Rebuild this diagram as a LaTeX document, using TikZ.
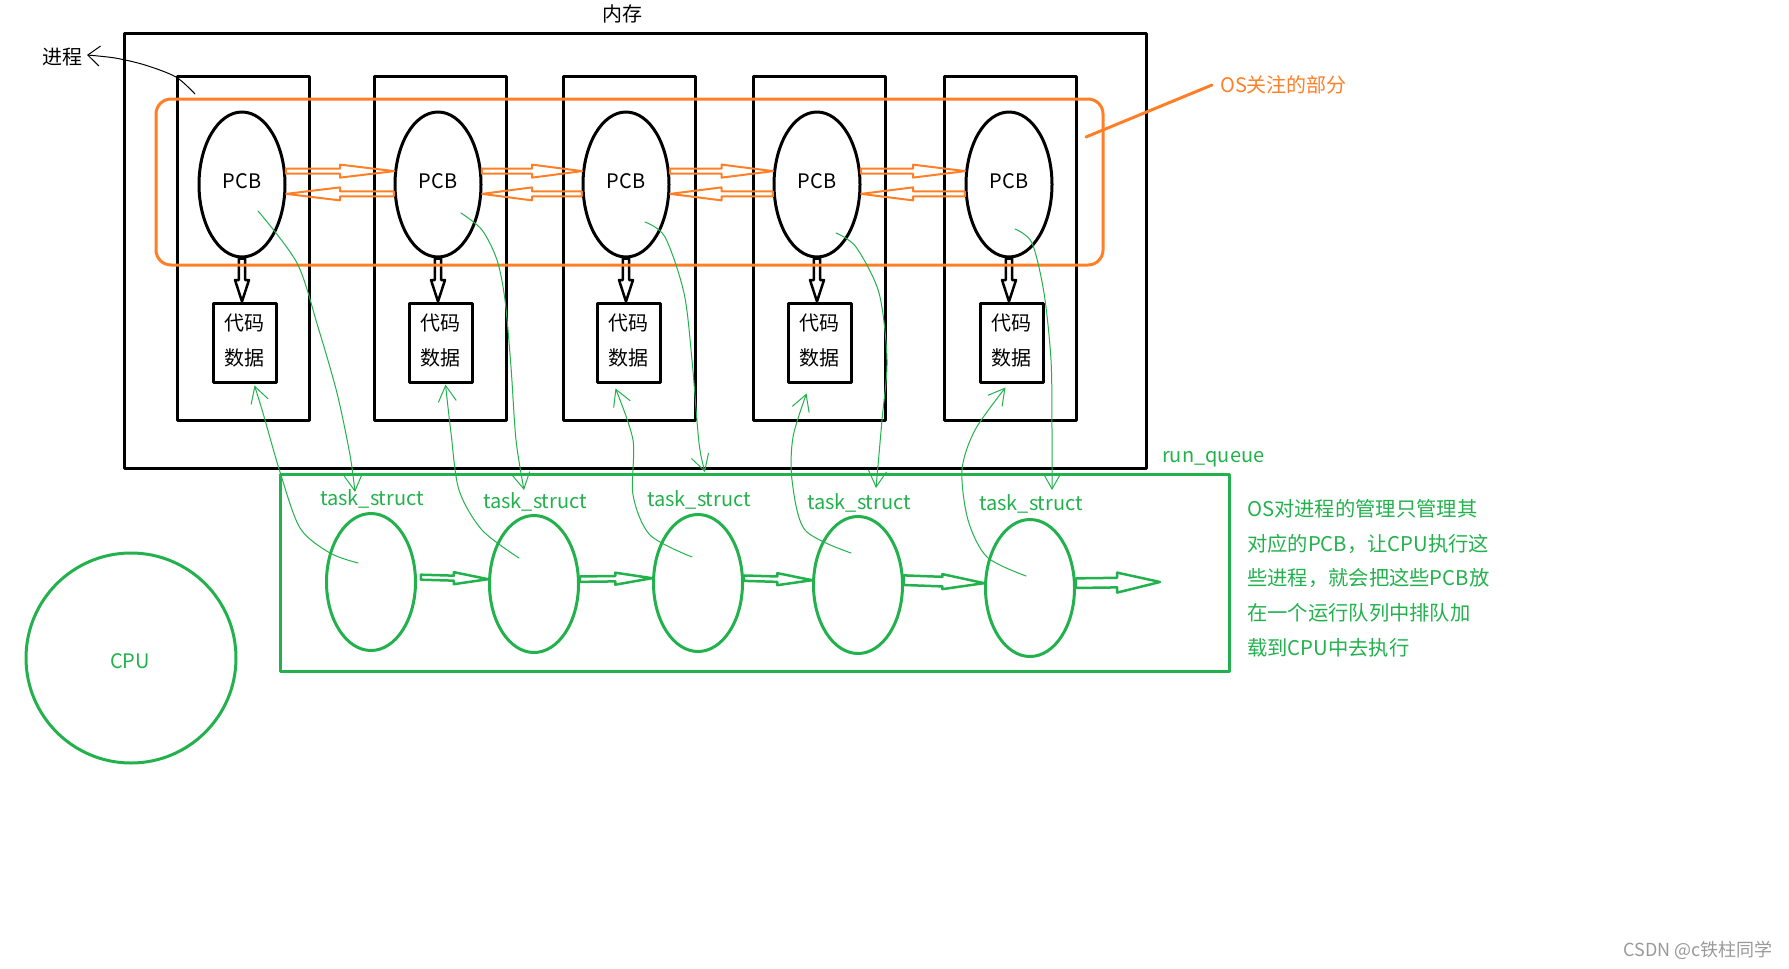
\documentclass[tikz,border=0pt]{standalone}
\usepackage{fontspec}
\setmainfont{Noto Sans CJK SC}
\usepackage{tikz}
\usetikzlibrary{arrows.meta, shapes.geometric}
\usetikzlibrary{positioning, calc}

\definecolor{osorange}{RGB}{255,127,39}
\definecolor{qgreen}{RGB}{34,177,76}

% hollow block arrow: style, tail, tip, where the head starts, shaft offset, head offset
\newcommand{\hollowarrow}[6]{%
  \draw[#1] ($#2+#5$) -- ($#2!#4!#3+#5$) -- ($#2!#4!#3+#6$) -- #3
    -- ($#2!#4!#3-#6$) -- ($#2!#4!#3-#5$) -- ($#2-#5$) -- cycle;}

\begin{document}
\begin{tikzpicture}[line cap=round,line join=round,x=1pt,y=-1pt,
  every node/.style={inner sep=0pt},
  txt/.style={font=\fontsize{20}{24}\selectfont},
  proc/.style={draw, line width=3pt, minimum width=132pt, minimum height=344pt},
  pcb/.style={ellipse, draw, line width=3pt, minimum width=86pt, minimum height=145pt, txt},
  code/.style={draw, line width=3pt, minimum width=63pt, minimum height=79pt, align=center, font=\fontsize{20}{35}\selectfont},
  task/.style={ellipse, draw=qgreen, line width=3pt, minimum width=89pt, minimum height=137pt},
  glabel/.style={text=qgreen, txt},
  osarrow/.style={draw=osorange, line width=2pt},
  blkarrow/.style={draw=black, line width=2.5pt},
  qarrow/.style={draw=qgreen, line width=2.5pt},
  link/.style={qgreen, line width=1pt, -{Straight Barb[length=16pt,width=18pt]}}]
\useasboundingbox (0,0) rectangle (1789,969);

% memory
\draw[line width=3pt] (124,33) rectangle (1146,468);
\node[txt] (memlbl) at (622,14) {内存};

\foreach \i/\px/\bx/\tx/\ty/\lx/\ly in {1/242/243/371/582/372/499, 2/438/440.5/534/584/535/502,
    3/626/629/698/583/699/500, 4/817/819/858/585/859/503, 5/1009/1010/1030/588/1031/504}{
  \node[proc] (b\i) at (\bx,248) {};
  \node[pcb] (p\i) at (\px,184.5) {\raisebox{6pt}{PCB}};
  \node[code, below=43pt of p\i, xshift=2.5pt] (c\i) {\raisebox{5pt}{代码}\\\raisebox{5pt}{数据}};
  \coordinate (k\i) at (p\i.south |- c\i.north);
  \hollowarrow{blkarrow}{(p\i.south)}{(k\i)}{0.5}{(3.2pt,0)}{(7pt,0)}
  \node[task] (t\i) at (\tx,\ty) {};
  \node[glabel] (l\i) at (\lx,\ly) {task\_struct};
}

% the part the OS cares about
\draw[osorange, line width=3pt, rounded corners=15pt] (156,99) rectangle (1103,265);
\foreach \i/\j in {1/2,2/3,3/4,4/5}{
  \hollowarrow{osarrow}{(p\i.17)}{(p\j.163)}{0.5}{(0,2.5pt)}{(0,6.5pt)}
  \hollowarrow{osarrow}{(p\j.192)}{(p\i.-12)}{0.5}{(0,2.5pt)}{(0,6.5pt)}
}
\coordinate (oc) at (1086,137);
\node[txt, text=osorange, anchor=west, inner xsep=8pt] (os) at (1212,85) {OS关注的部分};
\draw[osorange, line width=3pt] (oc) -- (os.west);

% process label
\node[txt] (jt) at (62,57) {进程};
\coordinate (js) at (195,94);
\coordinate (jtip) at (87,55);
\draw[line width=1pt, -{Straight Barb[length=12pt,width=20pt]}] plot[smooth] coordinates {(js) (176,77) (145,65) (115,58) (jtip)};

% run queue
\draw[qgreen, line width=3pt] (280,474) rectangle (1229,671);
\node[glabel, anchor=west] (rq) at (1162,459) {run\_queue};
\coordinate (qend) at (1160,582);
\hollowarrow{qarrow}{($(t1.6)+(4,0)$)}{(t2.174)}{0.49}{(0,2.5pt)}{(0,6pt)}
\hollowarrow{qarrow}{(t2.6)}{(t3.174)}{0.49}{(0,2.7pt)}{(0,6pt)}
\hollowarrow{qarrow}{(t3.6)}{(t4.174)}{0.49}{(0,2.7pt)}{(0,6pt)}
\hollowarrow{qarrow}{(t4.6)}{(t5.174)}{0.48}{(0,4.8pt)}{(0,7.5pt)}
\hollowarrow{qarrow}{(t5.6)}{(qend)}{0.49}{(0,4.8pt)}{(0,10pt)}

% pcb -> task_struct
\coordinate (d1) at (258,211);  \coordinate (e1) at (355,492);
\coordinate (d2) at (461,213);  \coordinate (e2) at (524,490);
\coordinate (d3) at (645,222);  \coordinate (e3) at (705,472);
\coordinate (d4) at (836,233);  \coordinate (e4) at (876,488);
\coordinate (d5) at (1015,229); \coordinate (e5) at (1052,490);
\draw[link] plot[smooth] coordinates {(d1) (297,263) (318,327) (337,393) (350,455) (e1)};
\draw[link] plot[smooth] coordinates {(d2) (482,230) (497,260) (505,300) (511,367) (516,440) (e2)};
\draw[link] plot[smooth] coordinates {(d3) (665,237) (684,293) (692,360) (699,443) (e3)};
\draw[link] plot[smooth] coordinates {(d4) (856,247) (879,293) (887,360) (882,420) (e4)};
\draw[link] plot[smooth] coordinates {(d5) (1032,243) (1044,293) (1051,360) (1052,430) (e5)};

% task_struct -> code and data
\coordinate (s1) at (358,563);  \coordinate (u1) at ($(c1.south)+(10,2)$);
\coordinate (s2) at (519,558);  \coordinate (u2) at ($(c2.south)+(5,1)$);
\coordinate (s3) at (692,557);  \coordinate (u3) at ($(c3.south)+(-13,5)$);
\coordinate (s4) at (851,553);  \coordinate (u4) at ($(c4.south)+(-13,10)$);
\coordinate (s5) at (1026,576); \coordinate (u5) at ($(c5.south)+(-6,4)$);
\draw[link] plot[smooth] coordinates {(s1) (330,553) (300,528) (280,472) (263,413) (u1)};
\draw[link] plot[smooth] coordinates {(s2) (482,530) (459,490) (451,433) (u2)};
\draw[link] plot[smooth] coordinates {(s3) (650,535) (633,495) (633,440) (u3)};
\draw[link] plot[smooth] coordinates {(s4) (805,530) (792,480) (793,437) (u4)};
\draw[link] plot[smooth] coordinates {(s5) (987,557) (968,520) (962,470) (975,430) (u5)};

% cpu and note
\node[circle, draw=qgreen, line width=3pt, minimum size=210pt] (cpu) at (131,658) {};
\node[glabel] (cpulbl) at (130,661) {CPU};
\node[anchor=north west, align=left, text=qgreen, font=\fontsize{20.3}{34.8}\selectfont] (note) at (1247,499)
  {OS对进程的管理只管理其\\对应的PCB，让CPU执行这\\些进程，就会把这些PCB放\\在一个运行队列中排队加\\载到CPU中去执行};

\node[anchor=east, text=black!40, font=\fontsize{18}{20}\selectfont] (wm) at (1773,950) {CSDN @c铁柱同学};
\end{tikzpicture}
\end{document}
